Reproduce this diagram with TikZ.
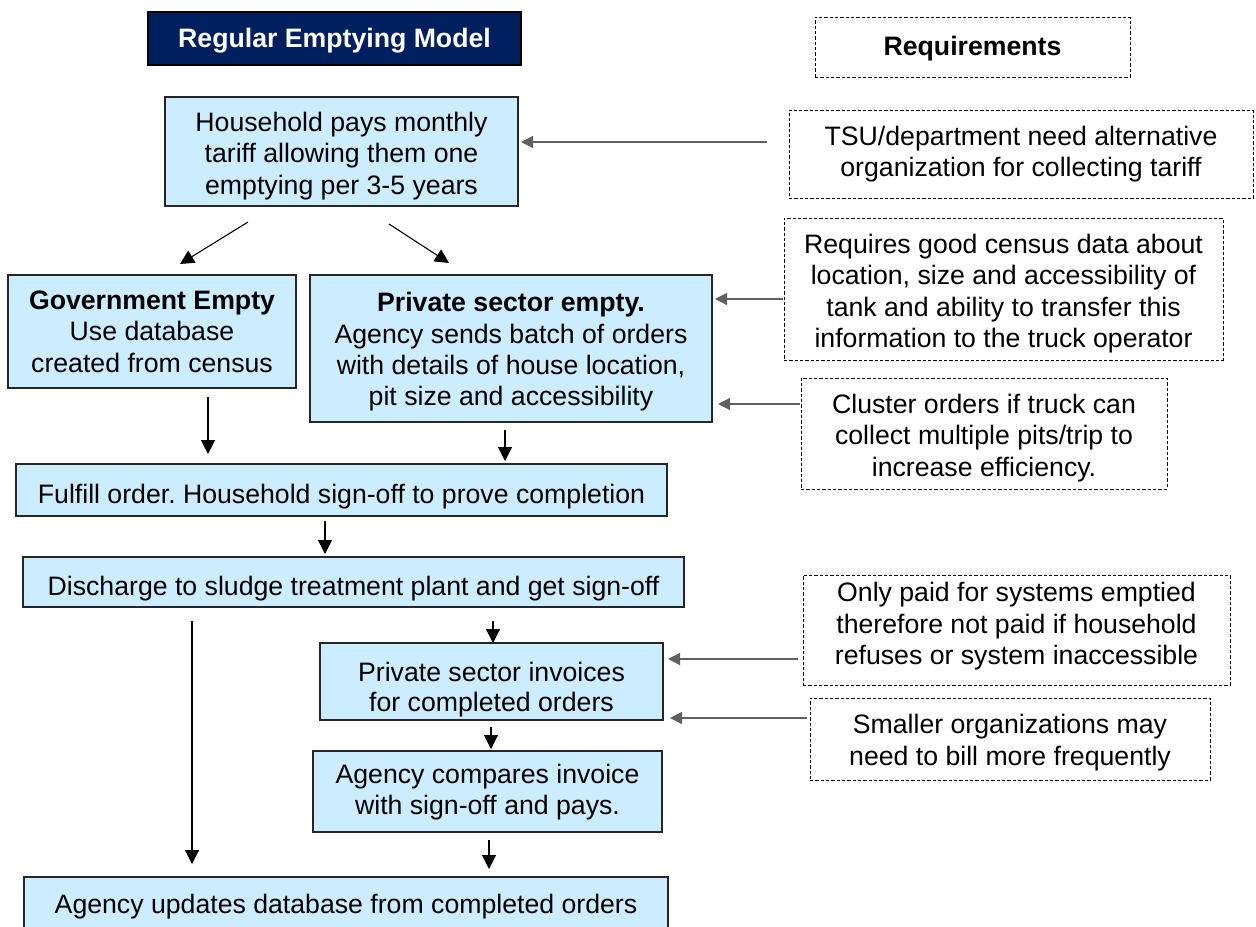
\documentclass[tikz,border=0pt]{standalone}
\usepackage{fontspec}
\setmainfont{Liberation Sans}
\usetikzlibrary{arrows.meta}
\frenchspacing
\definecolor{navy}{HTML}{001F5F}
\definecolor{boxblue}{HTML}{CCECFF}
\definecolor{sidegray}{HTML}{606060}
% centred block of lines, drawn lower by #1 without changing the node size
\newcommand\dropby[2]{\raisebox{-#1}[\height][\depth]{\begin{tabular}{@{}c@{}}#2\end{tabular}}}
\tikzset{
  wh/.style 2 args={minimum width=#1*0.75pt, minimum height=#2*0.75pt},
  box/.style={draw=black!85, line width=0.9pt, fill=boxblue, align=center,
    inner sep=0pt, font=\fontsize{20}{23.6}\selectfont},
  req/.style={draw=black, dash pattern=on 2.4pt off 1.6pt, line width=0.55pt,
    align=center, inner sep=0pt, font=\fontsize{20}{23.6}\selectfont},
  flow/.style={-{Triangle[width=10.5pt,length=10.5pt]}, line width=0.8pt, black},
  side/.style={-{Triangle[width=9pt,length=9pt]}, line width=0.9pt, sidegray},
}
\begin{document}
\begin{tikzpicture}[x=0.75pt, y=-0.75pt]
\clip (0,0) rectangle (1256,927);
\fill[white] (0,0) rectangle (1256,927);

% headings
\node[draw=black, line width=0.8pt, fill=navy, text=white, inner sep=0pt,
  font=\fontsize{20}{23.6}\selectfont\bfseries, wh={373}{53}] (title) at (334.5,38.5) {\dropby{2.25pt}{Regular Emptying Model}};
\node[req, font=\fontsize{20}{23.6}\selectfont\bfseries, wh={315}{60}] (reqhead) at (972.5,47) {\dropby{1.5pt}{Requirements}};

% process boxes
\node[box, wh={353}{109}] (house) at (341.5,151.5) {\dropby{3.75pt}{Household pays monthly\\tariff allowing them one\\emptying per 3-5 years}};
\node[box, wh={288}{113}] (gov) at (152,331.5) {\textbf{Government Empty}\\Use database\\created from census};
\node[box, wh={402}{147}] (priv) at (511,348.5) {\dropby{3pt}{\textbf{Private sector empty.}\\Agency sends batch of orders\\with details of house location,\\pit size and accessibility}};
\node[box, wh={651}{52}] (fulfill) at (341.5,490) {\dropby{5.25pt}{Fulfill order. Household sign-off to prove completion}};
\node[box, wh={661}{50}] (discharge) at (353.5,582) {\dropby{5.25pt}{Discharge to sludge treatment plant and get sign-off}};
\node[box, wh={343}{77}] (invoice) at (491.5,681.5) {\renewcommand\arraystretch{0.95}\dropby{6.75pt}{Private sector invoices\\for completed orders}};
\node[box, wh={349}{81}] (compare) at (487.5,791.5) {\dropby{0.75pt}{Agency compares invoice\\with sign-off and pays.}};
\node[box, wh={644}{55}] (update) at (346,904.5) {\dropby{2.25pt}{Agency updates database from completed orders}};

% requirement boxes
\node[req, wh={464}{88}] (tsu) at (1021,154) {TSU/department need alternative\\organization for collecting tariff};
\node[req, wh={439}{142}] (census) at (1003.5,289) {\dropby{3.75pt}{Requires good census data about\\location, size and accessibility of\\tank and ability to transfer this\\information to the truck operator}};
\node[req, wh={366}{111}] (cluster) at (984,433.5) {\dropby{3.75pt}{Cluster orders if truck can\\collect multiple pits/trip to\\increase efficiency.}};
\node[req, wh={427}{110}] (paid) at (1016.5,630) {\dropby{-2.25pt}{Only paid for systems emptied\\therefore not paid if household\\refuses or system inaccessible}};
\node[req, wh={400}{82}] (small) at (1010,739) {\dropby{3pt}{Smaller organizations may\\need to bill more frequently}};

% connector end points
\coordinate (hg1) at (248,222);  \coordinate (hg2) at (180,264);
\coordinate (hp1) at (389,224);  \coordinate (hp2) at (449,263);
\coordinate (gf1) at (208,397);  \coordinate (gf2) at (208,454);
\coordinate (pf1) at (505,430);  \coordinate (pf2) at (505,461);
\coordinate (fd1) at (325,521);  \coordinate (fd2) at (325,554);
\coordinate (du1) at (192,621);  \coordinate (du2) at (192,864);
\coordinate (di1) at (493,621);  \coordinate (di2) at (493,643);
\coordinate (ic1) at (491,727);  \coordinate (ic2) at (491,749);
\coordinate (cu1) at (489,840);  \coordinate (cu2) at (489,869);
\coordinate (ts1) at (767,142);  \coordinate (ts2) at (521,142);
\coordinate (ce1) at (783,299);  \coordinate (ce2) at (715,299);
\coordinate (cl1) at (800,404);  \coordinate (cl2) at (718,404);
\coordinate (pa1) at (798,659);  \coordinate (pa2) at (668,659);
\coordinate (sm1) at (807,718);  \coordinate (sm2) at (670,718);

% main flow
\draw[flow] (hg1) -- (hg2);
\draw[flow] (hp1) -- (hp2);
\draw[flow] (gf1) -- (gf2);
\draw[flow] (pf1) -- (pf2);
\draw[flow] (fd1) -- (fd2);
\draw[flow] (du1) -- (du2);
\draw[flow] (di1) -- (di2);
\draw[flow] (ic1) -- (ic2);
\draw[flow] (cu1) -- (cu2);

% requirement pointers
\draw[side] (ts1) -- (ts2);
\draw[side] (ce1) -- (ce2);
\draw[side] (cl1) -- (cl2);
\draw[side] (pa1) -- (pa2);
\draw[side] (sm1) -- (sm2);
\end{tikzpicture}
\end{document}
